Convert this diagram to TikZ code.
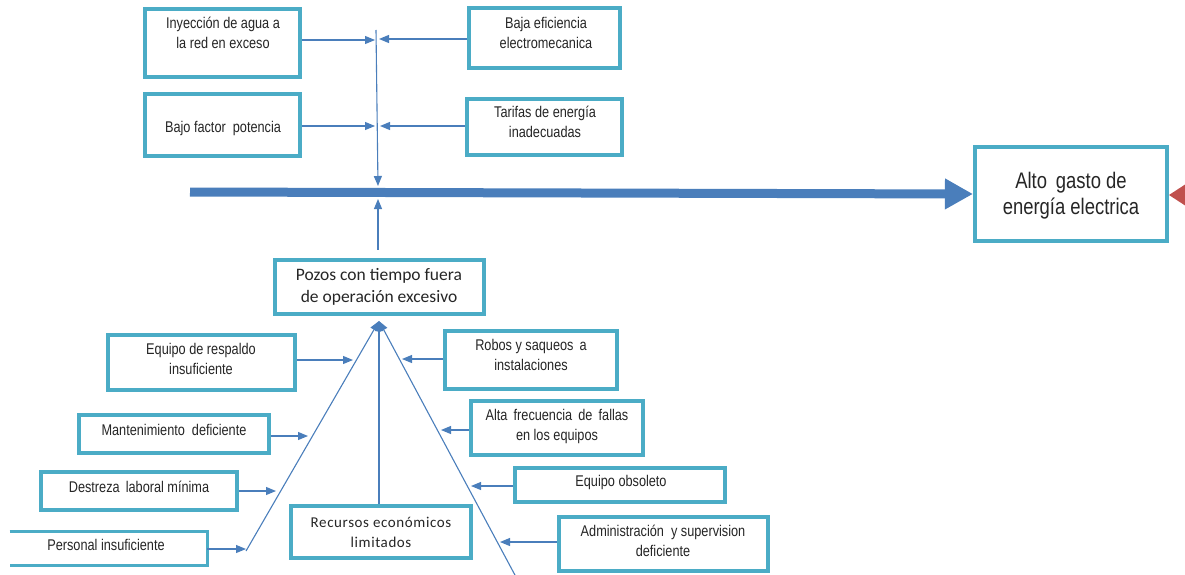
\documentclass[tikz,border=0pt]{standalone}
\usepackage{fontspec}
\setmainfont{Liberation Sans}
\newfontfamily\narf[FakeStretch=0.82]{Liberation Sans}
\newfontfamily\calf{Carlito}
\newfontfamily\calsf[LetterSpace=4]{Carlito}
\usetikzlibrary{arrows.meta,calc}
\definecolor{boxc}{RGB}{75,172,198}
\definecolor{linec}{RGB}{74,126,187}
\definecolor{redc}{RGB}{192,80,77}
\begin{document}
\begin{tikzpicture}[x=1pt,y=-1pt,
  box/.style={draw=boxc, line width=3.6pt, fill=white, inner sep=0pt},
  openbox/.style={draw=none, inner sep=0pt},
  txt/.style={font=\narf\fontsize{15.5}{20}\selectfont, align=center, inner sep=0pt, text=black!85},
  conn/.style={draw=linec, line width=1.1pt, -{Triangle[length=10pt,width=8pt]}},
  spine/.style={draw=linec, line width=9pt, -{Triangle[length=28pt,width=29pt]}}]
\useasboundingbox (0,0) rectangle (1185,575);
\clip (0,0) rectangle (1185,575);

% boxes
\node[box, minimum width=155.5pt, minimum height=68.5pt] (iny) at (222.5,43) {};
\node[box, minimum width=151.5pt, minimum height=60.5pt] (baja) at (544.5,38) {};
\node[box, minimum width=155.5pt, minimum height=62.5pt] (bajo) at (222.5,125) {};
\node[box, minimum width=155.5pt, minimum height=56.5pt] (tar) at (544.5,127) {};
\node[box, minimum width=192.5pt, minimum height=94.5pt] (alto) at (1071,194) {};
\node[box, minimum width=209.5pt, minimum height=54.5pt] (pozos) at (379.5,287) {};
\node[box, minimum width=187.5pt, minimum height=55.5pt] (resp) at (201.5,362.5) {};
\node[box, minimum width=190.5pt, minimum height=38.5pt] (mant) at (174,434) {};
\node[box, minimum width=196.5pt, minimum height=38.5pt] (dest) at (139,491) {};
\node[openbox, minimum width=197.5pt, minimum height=33.5pt] (pers) at (108.5,548.5) {};
\draw[draw=boxc, line width=3.6pt, line join=miter] (pers.north west) -- (pers.north east) -- (pers.south east) -- (pers.south west);
\node[box, minimum width=180.5pt, minimum height=52.5pt] (rec) at (381,532) {};
\node[box, minimum width=172.5pt, minimum height=58.5pt] (robos) at (531,360) {};
\node[box, minimum width=172.5pt, minimum height=54.5pt] (alta) at (557,428) {};
\node[box, minimum width=210.5pt, minimum height=34.5pt] (obs) at (620,485) {};
\node[box, minimum width=209.5pt, minimum height=54.5pt] (adm) at (663.5,544) {};

% texts
\node[txt] (tiny) at (223,33) {Inyección de agua a\\la red en exceso};
\node[txt] (tbaja) at (546,33) {Baja eficiencia\\electromecanica};
\node[txt] (tbajo) at (223,128) {Bajo factor \ potencia};
\node[txt] (ttar) at (545,122) {Tarifas de energía\\inadecuadas};
\node[txt, font=\narf\fontsize{22.5}{26}\selectfont] (talto) at (1071,196) {Alto \,gasto de\\energía electrica};
\node[txt, font=\calf\fontsize{17.5}{22}\selectfont] (tpozos) at (379,287) {Pozos con tiempo fuera\\de operación excesivo};
\node[txt] (tresp) at (201,359) {Equipo de respaldo\\insuficiente};
\node[txt] (tmant) at (174,430) {Mantenimiento \ deficiente};
\node[txt] (tdest) at (139,487) {Destreza \,laboral mínima};
\node[txt] (tpers) at (106,545) {Personal insuficiente};
\node[txt, font=\calsf\fontsize{15}{20}\selectfont] (trec) at (381,532) {Recursos económicos\\limitados};
\node[txt] (trobos) at (531,355) {Robos y saqueos \,a\\instalaciones};
\node[txt] (talta) at (557,426.5) {Alta \,frecuencia \,de \,fallas\\en los equipos};
\node[txt] (tobs) at (621,482) {Equipo obsoleto};
\node[txt] (tadm) at (663,540.5) {Administración \ y supervision\\deficiente};

% coordinates
\coordinate (tA) at (375,40);
\coordinate (tB) at (379,39);
\coordinate (tC) at (375,126);
\coordinate (tD) at (380,126);
\coordinate (vtop) at (376,30);
\coordinate (vbot) at (378,186);
\coordinate (sp0) at (190,192);
\coordinate (spB) at (378,199);
\coordinate (conv) at (379,321);
\coordinate (ld) at (246,551);
\coordinate (rd) at (516,577);
\coordinate (l1) at (353,360);
\coordinate (l2) at (308,436);
\coordinate (l3) at (276,491);
\coordinate (l4) at (246,549);
\coordinate (r1) at (402,359);
\coordinate (r2) at (441,430);
\coordinate (r3) at (471,486);
\coordinate (r4) at (500,542);

% spine
\draw[spine] (sp0) -- (alto.west);
\fill[redc] (1169,195) -- (1192,180) -- (1192,210) -- cycle;

% top branch
\draw[conn] (vtop) -- (vbot);
\draw[conn] (iny.east |- tA) -- (tA);
\draw[conn] (baja.west |- tB) -- (tB);
\draw[conn] (bajo.east |- tC) -- (tC);
\draw[conn] (tar.west |- tD) -- (tD);

% bottom branch
\draw[conn, shorten <=8pt] (pozos.north -| spB) -- (spB);
\draw[conn] (ld) -- (conv);
\draw[conn] (rec.north -| conv) -- (conv);
\draw[conn] (rd) -- (conv);

\draw[conn] (resp.east |- l1) -- (l1);
\draw[conn] (mant.east |- l2) -- (l2);
\draw[conn] (dest.east |- l3) -- (l3);
\draw[conn] (pers.east |- l4) -- (l4);
\draw[conn] (robos.west |- r1) -- (r1);
\draw[conn] (alta.west |- r2) -- (r2);
\draw[conn] (obs.west |- r3) -- (r3);
\draw[conn] (adm.west |- r4) -- (r4);
\end{tikzpicture}
\end{document}
